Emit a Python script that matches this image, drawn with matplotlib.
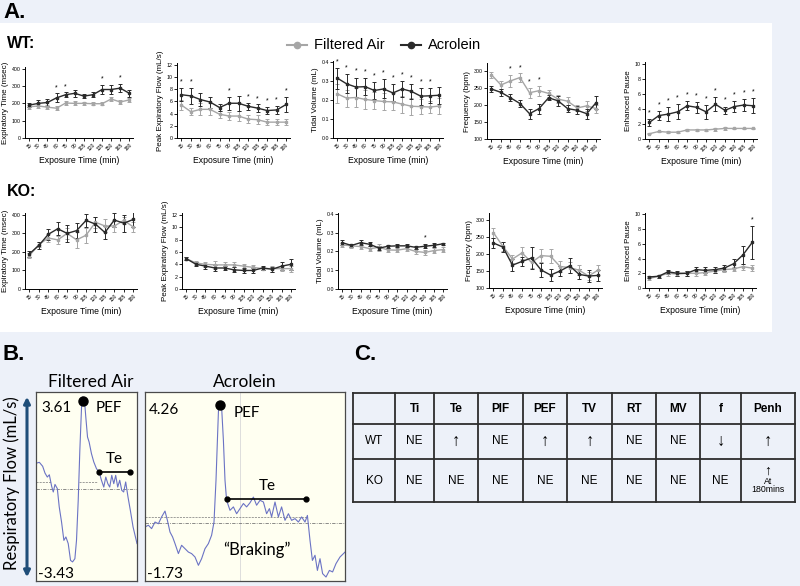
import matplotlib
matplotlib.use('Agg')
import matplotlib.pyplot as plt
from matplotlib.patches import Rectangle, FancyArrowPatch
from matplotlib.lines import Line2D

W, H = 800, 586
fig = plt.figure(figsize=(W / 100, H / 100), dpi=100)
fig.patch.set_facecolor('#EDF1F9')

AIR = '#A6A6A6'
ACR = '#2A2A2A'
FONT = ['Liberation Sans', 'DejaVu Sans']
BFONT = ['Lato', 'DejaVu Sans']

# ---------------- data ----------------
times = [15, 30, 45, 60, 75, 90, 105, 120, 135, 150, 165, 180]
time_labels = [str(t) for t in times]

# WT
wt_te_air = [180, 185, 178, 172, 202, 200, 200, 198, 198, 225, 208, 220]
wt_te_air_err = [10, 12, 10, 10, 12, 12, 10, 10, 8, 10, 10, 10]
wt_te_acr = [190, 200, 205, 232, 250, 258, 242, 250, 280, 280, 288, 258]
wt_te_acr_err = [12, 18, 18, 25, 15, 20, 12, 15, 28, 25, 25, 22]
wt_te_stars = [60, 75, 135, 165]

wt_pef_air = [5.4, 4.3, 4.7, 4.7, 3.9, 3.6, 3.6, 3.1, 3.0, 2.6, 2.6, 2.6]
wt_pef_air_err = [0.8, 0.6, 1.0, 1.0, 0.6, 0.6, 0.8, 0.7, 0.7, 0.5, 0.5, 0.5]
wt_pef_acr = [7.1, 6.9, 6.3, 5.9, 5.0, 5.7, 5.7, 5.2, 4.9, 4.5, 4.6, 5.5]
wt_pef_acr_err = [1.1, 1.3, 1.1, 0.9, 0.5, 1.1, 1.2, 0.6, 0.6, 0.6, 0.6, 1.2]
wt_pef_stars = [15, 30, 90, 120, 135, 150, 165, 180]

wt_tv_air = [0.232, 0.210, 0.213, 0.203, 0.197, 0.192, 0.190, 0.178, 0.167, 0.165, 0.163, 0.168]
wt_tv_air_err = [0.05, 0.045, 0.05, 0.05, 0.045, 0.045, 0.045, 0.045, 0.045, 0.04, 0.03, 0.04]
wt_tv_acr = [0.315, 0.285, 0.268, 0.270, 0.250, 0.258, 0.237, 0.258, 0.245, 0.220, 0.222, 0.225]
wt_tv_acr_err = [0.055, 0.05, 0.05, 0.045, 0.045, 0.05, 0.045, 0.04, 0.04, 0.045, 0.04, 0.045]
wt_tv_stars = [15, 30, 45, 60, 75, 90, 105, 120, 135, 150, 165]

wt_f_air = [290, 260, 272, 282, 237, 243, 235, 218, 212, 192, 198, 190]
wt_f_air_err = [8, 12, 18, 12, 15, 15, 10, 12, 12, 10, 15, 12]
wt_f_acr = [248, 238, 222, 205, 175, 190, 222, 213, 190, 185, 175, 208]
wt_f_acr_err = [10, 10, 10, 10, 15, 15, 8, 15, 10, 12, 15, 18]
wt_f_stars = [45, 60, 75, 90]

wt_penh_air = [0.7, 1.0, 0.9, 0.9, 1.2, 1.2, 1.2, 1.3, 1.4, 1.4, 1.4, 1.4]
wt_penh_air_err = [0.1, 0.1, 0.1, 0.1, 0.15, 0.15, 0.15, 0.2, 0.15, 0.1, 0.1, 0.1]
wt_penh_acr = [2.2, 3.1, 3.3, 3.6, 4.4, 4.2, 3.6, 4.6, 3.8, 4.3, 4.5, 4.4]
wt_penh_acr_err = [0.5, 0.6, 0.9, 1.0, 0.6, 0.7, 0.9, 0.9, 0.5, 0.7, 0.8, 1.0]
wt_penh_stars = [15, 30, 45, 60, 75, 90, 105, 120, 135, 150, 165, 180]

# KO
ko_te_air = [180, 240, 275, 265, 300, 265, 290, 360, 340, 340, 370, 335]
ko_te_air_err = [12, 15, 20, 20, 30, 45, 40, 30, 35, 30, 20, 25]
ko_te_acr = [190, 235, 295, 325, 300, 315, 370, 350, 305, 372, 355, 375]
ko_te_acr_err = [15, 20, 30, 35, 45, 40, 35, 40, 35, 40, 45, 40]
ko_te_stars = []

ko_pef_air = [4.9, 4.2, 4.0, 3.9, 3.9, 3.9, 3.7, 3.5, 3.3, 3.3, 3.3, 3.3]
ko_pef_air_err = [0.2, 0.3, 0.4, 0.6, 0.5, 0.4, 0.4, 0.4, 0.3, 0.5, 0.4, 0.5]
ko_pef_acr = [4.9, 4.0, 3.7, 3.4, 3.4, 3.1, 3.0, 3.0, 3.4, 3.2, 3.7, 4.0]
ko_pef_acr_err = [0.2, 0.3, 0.4, 0.5, 0.4, 0.4, 0.4, 0.4, 0.3, 0.4, 0.6, 0.9]
ko_pef_stars = []

ko_tv_air = [0.235, 0.230, 0.226, 0.215, 0.222, 0.208, 0.207, 0.215, 0.200, 0.195, 0.205, 0.210]
ko_tv_air_err = [0.012, 0.012, 0.015, 0.015, 0.02, 0.012, 0.012, 0.01, 0.015, 0.015, 0.012, 0.012]
ko_tv_acr = [0.247, 0.232, 0.247, 0.238, 0.218, 0.228, 0.230, 0.230, 0.222, 0.228, 0.233, 0.241]
ko_tv_acr_err = [0.012, 0.01, 0.012, 0.01, 0.012, 0.008, 0.008, 0.008, 0.008, 0.012, 0.01, 0.006]
ko_tv_stars = [150]

ko_f_air = [262, 222, 185, 203, 175, 195, 193, 163, 160, 152, 135, 153]
ko_f_air_err = [15, 12, 12, 18, 15, 18, 20, 15, 15, 15, 12, 15]
ko_f_acr = [232, 220, 167, 178, 188, 153, 138, 150, 165, 140, 135, 137]
ko_f_acr_err = [15, 15, 18, 12, 32, 20, 18, 15, 22, 15, 18, 15]
ko_f_stars = []

ko_penh_air = [1.3, 1.6, 2.0, 1.9, 2.0, 2.0, 2.1, 2.3, 2.5, 2.6, 2.9, 2.7]
ko_penh_air_err = [0.2, 0.2, 0.3, 0.3, 0.3, 0.3, 0.3, 0.3, 0.3, 0.3, 0.4, 0.4]
ko_penh_acr = [1.5, 1.6, 2.2, 2.0, 2.0, 2.5, 2.4, 2.5, 2.7, 3.3, 4.5, 6.2]
ko_penh_acr_err = [0.2, 0.2, 0.3, 0.3, 0.3, 0.4, 0.4, 0.4, 0.4, 0.6, 1.2, 2.3]
ko_penh_stars = [180]

# Panel B traces (percent of box width / height)
fa_x = [0, 3.3, 6.6, 8.9, 11.2, 13.2, 15.5, 17.1, 18.8, 21.1, 23.0, 25.3, 27.6, 29.6, 31.9,
        34.2, 36.2, 38.5, 40.1, 41.8, 43.4, 45.1, 46.4, 48.0, 49.3, 51.0, 52.6, 54.9, 57.2,
        59.9, 62.5, 64.8, 67.1, 69.1, 71.1, 73.0, 75.0, 77.0, 78.9, 80.9, 82.9, 84.9, 86.8,
        88.8, 91.1, 93.4, 96.1, 100]
fa_y = [62.3, 62.8, 60.7, 57.1, 55.0, 56.2, 50.1, 47.1, 51.1, 48.9, 39.2, 31.2, 21.5, 23.3, 19.8,
        10.9, 10.1, 11.8, 21.5, 42.7, 69.1, 92.1, 97.4, 95.6, 86.8, 76.2, 73.5, 67.4, 63.0,
        59.4, 57.7, 53.3, 49.7, 55.0, 51.5, 49.7, 55.9, 51.5, 55.9, 49.7, 53.3, 48.0, 47.1,
        52.4, 44.4, 37.4, 28.6, 19.8]
ac_x = [0, 1.7, 3.3, 5.0, 6.7, 8.3, 10.0, 11.2, 12.5, 13.8, 15.0, 16.7, 18.3, 20.0, 21.7, 23.3,
        25.0, 26.7, 28.3, 30.0, 31.7, 33.3, 34.5, 35.5, 36.2, 36.8, 37.5, 38.3, 39.2, 40.0, 40.8,
        42.5, 44.2, 45.8, 47.5, 49.2, 50.8, 52.5, 54.2, 55.8, 57.5, 59.2, 60.8, 62.2, 63.3, 65.0,
        66.7, 68.3, 70.0, 71.7, 73.3, 75.0, 76.7, 78.3, 80.0, 81.2, 82.5, 83.7, 85.0, 86.2, 87.5,
        88.8, 90.5, 92.2, 93.8, 95.5, 97.5, 100]
ac_y = [28.6, 29.5, 27.7, 31.2, 30.3, 33.9, 37.0, 32.1, 25.9, 23.3, 19.8, 14.5, 18.9, 17.1, 15.3,
        14.5, 12.7, 8.3, 11.8, 17.1, 19.8, 24.2, 31.2, 53.3, 74.4, 92.1, 94.7, 92.1, 74.4, 53.3,
        42.7, 37.4, 39.2, 35.6, 38.3, 41.0, 39.2, 41.4, 44.4, 40.1, 42.7, 41.8, 35.6, 38.3, 33.9,
        41.8, 33.9, 39.2, 32.1, 35.6, 32.1, 33.0, 31.2, 33.9, 31.2, 34.7, 21.5, 10.9, 13.6, 5.6,
        11.8, 3.9, 2.1, 5.6, 4.8, 9.2, 12.7, 15.3]
fa_peak, fa_min = '3.61', '-3.43'
ac_peak, ac_min = '4.26', '-1.73'

# Panel C table
tbl_header = ['', 'Ti', 'Te', 'PIF', 'PEF', 'TV', 'RT', 'MV', 'f', 'Penh']
tbl_wt = ['WT', 'NE', '\u2191', 'NE', '\u2191', '\u2191', 'NE', 'NE', '\u2193', '\u2191']
tbl_ko = ['KO', 'NE', 'NE', 'NE', 'NE', 'NE', 'NE', 'NE', 'NE', '\u2191\nAt\n180mins']


# ---------------- helpers ----------------
def add_px(l, t, r, b, **kw):
    return fig.add_axes([l / W, 1 - b / H, (r - l) / W, (b - t) / H], **kw)


# background white area of panel A
fig.patches.append(Rectangle((0, 1 - 332 / H), 772 / W, (332 - 23) / H,
                             transform=fig.transFigure, facecolor='white',
                             edgecolor='none', zorder=-10))


def panel(box, ylim, yticks, ytl, ylabel, air, air_e, acr, acr_e, stars):
    ax = add_px(*box)
    ax.patch.set_alpha(0)
    kw = dict(marker='s', ms=1.8, lw=1.0, elinewidth=0.7, capsize=1.6, capthick=0.7)
    ax.errorbar(times, air, yerr=air_e, color=AIR, **kw)
    ax.errorbar(times, acr, yerr=acr_e, color=ACR, **kw)
    ax.set_xlim(8, 186)
    ax.set_ylim(*ylim)
    ax.set_xticks(times)
    ax.set_xticklabels(time_labels, rotation=45, ha='right', rotation_mode='anchor',
                       fontsize=3.6, family=FONT)
    ax.set_yticks(yticks)
    ax.set_yticklabels(ytl, fontsize=3.8, family=FONT)
    for s in ('top', 'right'):
        ax.spines[s].set_visible(False)
    for s in ('left', 'bottom'):
        ax.spines[s].set_linewidth(0.7)
    ax.tick_params(length=2, width=0.6, pad=1)
    ax.set_ylabel(ylabel, fontsize=5.8, labelpad=2, family=FONT)
    ax.set_xlabel('Exposure Time (min)', fontsize=6.2, labelpad=3, family=FONT)
    rng = ylim[1] - ylim[0]
    for s in stars:
        i = times.index(s)
        y = max(air[i] + air_e[i], acr[i] + acr_e[i]) + 0.08 * rng
        ax.text(s, y, '*', ha='center', va='center', fontsize=5, family=FONT)
    return ax


te_t, te_l = [0, 100, 200, 300, 400], ['0', '100', '200', '300', '400']
pef_t, pef_l = [0, 2, 4, 6, 8, 10, 12], ['0', '2', '4', '6', '8', '10', '12']
tv_t, tv_l = [0, 0.1, 0.2, 0.3, 0.4], ['0.0', '0.1', '0.2', '0.3', '0.4']
f_t, f_l = [100, 150, 200, 250, 300], ['100', '150', '200', '250', '300']
pe_t, pe_l = [0, 2, 4, 6, 8, 10], ['0', '2', '4', '6', '8', '10']

panel((25, 67, 133, 138), (0, 410), te_t, te_l, 'Expiratory Time (msec)',
      wt_te_air, wt_te_air_err, wt_te_acr, wt_te_acr_err, wt_te_stars)
panel((177, 63, 290, 138), (0, 12.3), pef_t, pef_l, 'Peak Expiratory Flow (mL/s)',
      wt_pef_air, wt_pef_air_err, wt_pef_acr, wt_pef_acr_err, wt_pef_stars)
panel((333, 61, 443, 138), (0, 0.405), tv_t, tv_l, 'Tidal Volume (mL)',
      wt_tv_air, wt_tv_air_err, wt_tv_acr, wt_tv_acr_err, wt_tv_stars)
panel((487, 63, 600, 139), (100, 325), f_t, f_l, 'Frequency (bpm)',
      wt_f_air, wt_f_air_err, wt_f_acr, wt_f_acr_err, wt_f_stars)
panel((645, 62, 757, 139), (0, 10.2), pe_t, pe_l, 'Enhanced Pause',
      wt_penh_air, wt_penh_air_err, wt_penh_acr, wt_penh_acr_err, wt_penh_stars)

panel((25, 213, 137, 289), (0, 410), te_t, te_l, 'Expiratory Time (msec)',
      ko_te_air, ko_te_air_err, ko_te_acr, ko_te_acr_err, ko_te_stars)
panel((182, 213, 295, 289), (0, 12.3), pef_t, pef_l, 'Peak Expiratory Flow (mL/s)',
      ko_pef_air, ko_pef_air_err, ko_pef_acr, ko_pef_acr_err, ko_pef_stars)
panel((338, 213, 447, 289), (0, 0.405), tv_t, tv_l, 'Tidal Volume (mL)',
      ko_tv_air, ko_tv_air_err, ko_tv_acr, ko_tv_acr_err, ko_tv_stars)
panel((489, 213, 602, 288), (100, 320), f_t, f_l, 'Frequency (bpm)',
      ko_f_air, ko_f_air_err, ko_f_acr, ko_f_acr_err, ko_f_stars)
panel((645, 213, 756, 288), (0, 10.2), pe_t, pe_l, 'Enhanced Pause',
      ko_penh_air, ko_penh_air_err, ko_penh_acr, ko_penh_acr_err, ko_penh_stars)

# ---------------- Panel B ----------------
TRACE = '#6B73C4'


def trace_box(box, xs, ys, peak_xy, peak_lbl, min_lbl, lbl_xy, min_xy, pef_xy,
              te_x, te_y, te_lbl_xy, base_y, extra_dash):
    ax = add_px(*box)
    ax.set_facecolor('#FFFFF1')
    ax.set_xlim(0, 100)
    ax.set_ylim(0, 100)
    ax.set_xticks([])
    ax.set_yticks([])
    for s in ax.spines.values():
        s.set_color('#4A4A4A')
        s.set_linewidth(0.9)
    ax.axhline(base_y, color='#777777', lw=0.6, ls=(0, (4, 1.5, 1, 1.5)))
    for (x0, x1, y0) in extra_dash:
        ax.plot([x0, x1], [y0, y0], color='#777777', lw=0.5, ls=(0, (3, 1.5)))
    ax.plot(xs, ys, color=TRACE, lw=0.8)
    ax.plot([peak_xy[0]], [peak_xy[1]], 'o', color='black', ms=6.5)
    ax.plot(te_x, te_y, '-o', color='black', lw=1.2, ms=3.5)
    ax.text(lbl_xy[0], lbl_xy[1], peak_lbl, fontsize=11, family=BFONT, ha='center', va='center')
    ax.text(min_xy[0], min_xy[1], min_lbl, fontsize=11, family=BFONT, ha='center', va='center')
    ax.text(pef_xy[0], pef_xy[1], 'PEF', fontsize=11, family=BFONT, ha='center', va='center')
    ax.text(te_lbl_xy[0], te_lbl_xy[1], 'Te', fontsize=11, family=BFONT, ha='center', va='center')
    return ax


trace_box((36, 392, 137, 581), fa_x, fa_y, (46.6, 95.5), fa_peak, fa_min,
          (20, 91.5), (20, 3.5), (72, 91.5), [62.5, 93.4], [57.7, 57.7], (77, 64.5),
          48.5, [(0, 15, 52.5), (43, 60, 52.5)])
ax2 = trace_box((145, 392, 345, 581), ac_x, ac_y, (37.5, 93.0), ac_peak, ac_min,
                (9.5, 90.5), (10, 3.5), (51, 89), [41.2, 80.5], [43.6, 43.6], (61, 50.5),
                30.7, [(0, 81, 33.9)])
ax2.axvline(47.5, color='#D8D8D8', lw=0.6, zorder=0)
ax2.text(56, 16.5, '\u201cBraking\u201d', fontsize=12, family=BFONT, ha='center', va='center')

# ---------------- overlay for text ----------------
ov = fig.add_axes([0, 0, 1, 1])
ov.set_xlim(0, W)
ov.set_ylim(H, 0)
ov.axis('off')
ov.patch.set_alpha(0)

ov.text(3, 13, 'A.', fontsize=16, fontweight='bold', family=FONT, va='center', ha='left')
ov.text(7, 44, 'WT:', fontsize=11.5, fontweight='bold', family=FONT, va='center', ha='left')
ov.text(7, 192, 'KO:', fontsize=11.5, fontweight='bold', family=FONT, va='center', ha='left')
ov.text(3, 355, 'B.', fontsize=16, fontweight='bold', family=FONT, va='center', ha='left')
ov.text(354, 355, 'C.', fontsize=16, fontweight='bold', family=FONT, va='center', ha='left')

# legend
legend_items = [('Filtered Air', AIR, 287), ('Acrolein', ACR, 401)]
for lbl, col, x0 in legend_items:
    ov.add_line(Line2D([x0, x0 + 20], [45, 45], color=col, lw=1.5))
    ov.add_line(Line2D([x0 + 10], [45], color=col, marker='o', ms=4.5))
    ov.text(x0 + 27, 45, lbl, fontsize=10.5, family=FONT, va='center', ha='left')

# panel B labels
ov.text(91, 382, 'Filtered Air', fontsize=12.5, family=BFONT, ha='center', va='center')
ov.text(245, 382, 'Acrolein', fontsize=12.5, family=BFONT, ha='center', va='center')
ov.add_patch(FancyArrowPatch((27, 394), (27, 580), arrowstyle='<|-|>', mutation_scale=9,
                             color='#1F4E79', lw=2.2))
ov.text(12, 483, 'Respiratory Flow (mL/s)', fontsize=12, family=BFONT, rotation=90,
        ha='center', va='center')

# ---------------- Panel C table ----------------
col_edges = [353, 395, 434, 478, 523, 567, 612, 656, 700, 741, 795]
row_edges = [393, 424, 459, 502]
for x in col_edges:
    ov.add_line(Line2D([x, x], [row_edges[0], row_edges[-1]], color='#2E2E2E', lw=1.3))
for y in row_edges:
    ov.add_line(Line2D([col_edges[0], col_edges[-1]], [y, y], color='#2E2E2E', lw=1.3))
rows = [tbl_header, tbl_wt, tbl_ko]
for r, row in enumerate(rows):
    yc = (row_edges[r] + row_edges[r + 1]) / 2
    for c, val in enumerate(row):
        xc = (col_edges[c] + col_edges[c + 1]) / 2
        if r == 0:
            ov.text(xc, yc, val, fontsize=8.5, fontweight='bold', family=FONT, ha='center', va='center')
        elif '\n' in val:
            parts = val.split('\n')
            ov.text(xc, yc - 10, parts[0], fontsize=10, family=FONT, ha='center', va='center')
            ov.text(xc, yc + 1, parts[1], fontsize=6.3, family=FONT, ha='center', va='center')
            ov.text(xc, yc + 9, parts[2], fontsize=6.3, family=FONT, ha='center', va='center')
        elif val in ('\u2191', '\u2193'):
            ov.text(xc, yc, val, fontsize=12, family=FONT, ha='center', va='center')
        else:
            ov.text(xc, yc, val, fontsize=8.5, family=FONT, ha='center', va='center')

fig.savefig('out.png', dpi=100, facecolor=fig.get_facecolor())
